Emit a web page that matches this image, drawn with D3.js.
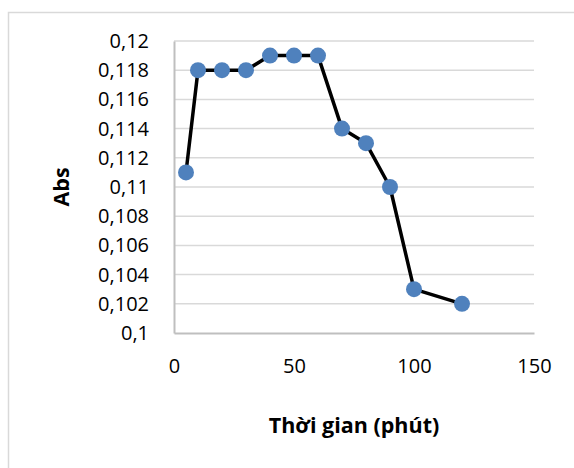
<!DOCTYPE html>
<html>
<head>
<meta charset="utf-8">
<script src="https://cdn.jsdelivr.net/npm/d3@7"></script>
<style>
  body { margin: 0; background: #fff; }
  text { font-family: "Open Sans", sans-serif; fill: #000; }
</style>
</head>
<body>
<svg width="574" height="468"></svg>
<script>
// data
var times = [5, 10, 20, 30, 40, 50, 60, 70, 80, 90, 100, 120];
var abs = [0.111, 0.118, 0.118, 0.118, 0.119, 0.119, 0.119, 0.114, 0.113, 0.110, 0.103, 0.102];
var xTicks = [0, 50, 100, 150];
var yTicks = [0.1, 0.102, 0.104, 0.106, 0.108, 0.11, 0.112, 0.114, 0.116, 0.118, 0.12];
var xTitle = "Thời gian (phút)";
var yTitle = "Abs";

var svg = d3.select("svg"),
  plotL = 174, plotR = 534, plotT = 41, plotB = 333;

// chart frame
svg.append("rect")
  .attr("x", 8.5).attr("y", 12.5)
  .attr("width", 600).attr("height", 500)
  .attr("fill", "none")
  .attr("stroke", "#d9d9d9")
  .attr("stroke-width", 1.5);

var x = d3.scaleLinear().domain([0, 150]).range([plotL, plotR]);
var y = d3.scaleLinear().domain([0.1, 0.12]).range([plotB, plotT]);

var fmt = function (d) { return String(+d.toFixed(3)).replace(".", ","); };

// gridlines
svg.append("g")
  .selectAll("line")
  .data(yTicks.slice(1))
  .enter()
  .append("line")
    .attr("x1", plotL).attr("x2", plotR)
    .attr("y1", function (d) { return y(d); })
    .attr("y2", function (d) { return y(d); })
    .attr("stroke", "#d9d9d9")
    .attr("stroke-width", 1.5);

// axes
var yAxis = svg.append("g")
  .attr("transform", "translate(" + plotL + ",0)")
  .call(d3.axisLeft(y).tickValues(yTicks).tickSize(0).tickPadding(25).tickFormat(fmt));
yAxis.select(".domain").attr("stroke", "#bfbfbf").attr("stroke-width", 2);
yAxis.selectAll("text").style("font-size", "20px").style("font-family", "Open Sans");

var xAxis = svg.append("g")
  .attr("transform", "translate(0," + plotB + ")")
  .call(d3.axisBottom(x).tickValues(xTicks).tickSize(0).tickPadding(26).tickFormat(d3.format("d")));
xAxis.select(".domain").attr("stroke", "#bfbfbf").attr("stroke-width", 2);
xAxis.selectAll("text").style("font-size", "20px").style("font-family", "Open Sans");

// titles
svg.append("text")
  .attr("x", (plotL + plotR) / 2)
  .attr("y", 433)
  .attr("text-anchor", "middle")
  .style("font-size", "21.5px")
  .style("font-weight", "bold")
  .text(xTitle);

svg.append("text")
  .attr("transform", "translate(69," + (plotT + plotB) / 2 + ") rotate(-90)")
  .attr("text-anchor", "middle")
  .style("font-size", "21.5px")
  .style("font-weight", "bold")
  .text(yTitle);

// series
var pts = times.map(function (t, i) { return [t, abs[i]]; });

svg.append("path")
  .datum(pts)
  .attr("fill", "none")
  .attr("stroke", "#000")
  .attr("stroke-width", 3.5)
  .attr("stroke-linejoin", "round")
  .attr("d", d3.line()
    .x(function (d) { return x(d[0]); })
    .y(function (d) { return y(d[1]); }));

svg.append("g")
  .selectAll("circle")
  .data(pts)
  .enter()
  .append("circle")
    .attr("cx", function (d) { return x(d[0]); })
    .attr("cy", function (d) { return y(d[1]); })
    .attr("r", 8)
    .attr("fill", "#4f81bd");
</script>
</body>
</html>
